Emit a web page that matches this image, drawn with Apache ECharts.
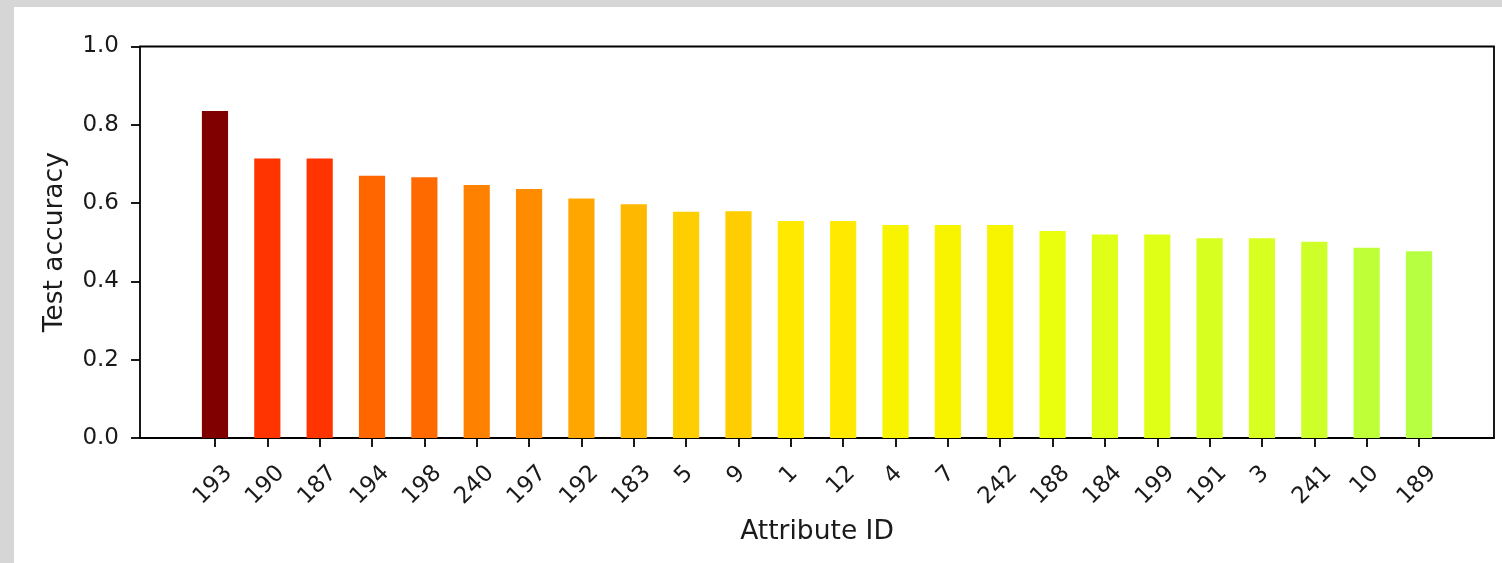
<!DOCTYPE html>
<html>
<head>
<meta charset="utf-8">
<script src="https://cdn.jsdelivr.net/npm/echarts@6/dist/echarts.min.js"></script>
<style>
  html, body { margin: 0; padding: 0; background: #d6d6d6; width: 1502px; height: 563px; overflow: hidden; }
  #chart { position: absolute; left: 14px; top: 7px; width: 1488px; height: 556px; background: #ffffff; }
</style>
</head>
<body>
<div id="chart"></div>
<script>
// Attribute IDs, sorted by test accuracy
const attributeIds = ['193', '190', '187', '194', '198', '240', '197', '192', '183', '5', '9', '1',
                      '12', '4', '7', '242', '188', '184', '199', '191', '3', '241', '10', '189'];
const testAccuracy = [0.835, 0.714, 0.714, 0.670, 0.666, 0.646, 0.636, 0.612, 0.597, 0.578, 0.579, 0.554,
                      0.554, 0.544, 0.544, 0.544, 0.529, 0.520, 0.520, 0.510, 0.510, 0.501, 0.486, 0.477];
const yTicks = [0.0, 0.2, 0.4, 0.6, 0.8, 1.0];

// matplotlib-style "jet" colormap
const jetSegments = {
  r: [[0, 0], [0.35, 0], [0.66, 1], [0.89, 1], [1, 0.5]],
  g: [[0, 0], [0.125, 0], [0.375, 1], [0.64, 1], [0.91, 0], [1, 0]],
  b: [[0, 0.5], [0.11, 1], [0.34, 1], [0.65, 0], [1, 0]]
};
function interp(seg, x) {
  for (let i = 1; i < seg.length; i++) {
    if (x <= seg[i][0]) {
      const [x0, y0] = seg[i - 1], [x1, y1] = seg[i];
      return y0 + (y1 - y0) * (x - x0) / (x1 - x0);
    }
  }
  return seg[seg.length - 1][1];
}
function jet(x) {
  const c = k => Math.round(255 * interp(jetSegments[k], x));
  return 'rgb(' + c('r') + ',' + c('g') + ',' + c('b') + ')';
}
const maxAcc = Math.max(...testAccuracy);

const textColor = '#1a1a1a';
const font = 'DejaVu Sans';
const tickFont = { fontSize: 23, color: textColor, fontFamily: font };

// Rotated tick labels are centred under their tick, with their top edges aligned:
// longer labels are pushed further down via padding along the rotated text box.
const C45 = Math.SQRT1_2;
function labelPad(nChars) {
  const down = (nChars - 1) * 14.6 * C45 / 2;   // extra drop for each additional digit
  const t = down / C45;
  return [t, t + 2.8, 2.8, 0];
}
const labelRich = {
  d1: Object.assign({ padding: labelPad(1) }, tickFont),
  d2: Object.assign({ padding: labelPad(2) }, tickFont),
  d3: Object.assign({ padding: labelPad(3) }, tickFont)
};

const chart = echarts.init(document.getElementById('chart'), null, { renderer: 'canvas' });
chart.setOption({
  animation: false,
  textStyle: { fontFamily: font },
  grid: [
    // frame and y axis
    { left: 126, top: 39.5, width: 1354, height: 391.5, show: true, borderColor: '#000', borderWidth: 1.8, backgroundColor: 'transparent' },
    // bars, inset inside the frame
    { left: 174.8, top: 39.5, width: 1256.4, height: 391.5 }
  ],
  xAxis: [
    { type: 'value', gridIndex: 0, show: false, min: 0, max: 1 },
    {
      type: 'category', gridIndex: 1, data: attributeIds,
      name: 'Attribute ID', nameLocation: 'middle', nameGap: 81,
      nameTextStyle: { fontSize: 26.5, color: textColor, fontFamily: font },
      axisLine: { show: false },
      axisTick: { show: true, alignWithLabel: true, length: 9, lineStyle: { color: '#000', width: 1.8 } },
      axisLabel: Object.assign({
        rotate: 45, interval: 0, margin: 37,
        align: 'center', verticalAlign: 'middle',
        formatter: v => '{d' + v.length + '|' + v + '}',
        rich: labelRich
      }, tickFont)
    }
  ],
  yAxis: [
    {
      type: 'value', gridIndex: 0, min: 0, max: 1, interval: 0.2,
      name: 'Test accuracy', nameLocation: 'middle', nameGap: 71.5, nameRotate: 90,
      nameTextStyle: { fontSize: 26.5, color: textColor, fontFamily: font },
      splitLine: { show: false },
      axisLine: { show: false },
      axisTick: { show: true, length: 9, lineStyle: { color: '#000', width: 1.8 } },
      axisLabel: Object.assign({
        margin: 21,
        formatter: v => yTicks.find(t => Math.abs(t - v) < 1e-9).toFixed(1)
      }, tickFont)
    },
    { type: 'value', gridIndex: 1, min: 0, max: 1, show: false }
  ],
  series: [{
    type: 'bar', xAxisIndex: 1, yAxisIndex: 1, barWidth: '50%',
    data: testAccuracy.map(v => ({ value: v, itemStyle: { color: jet(v / maxAcc) } }))
  }]
});
</script>
</body>
</html>
